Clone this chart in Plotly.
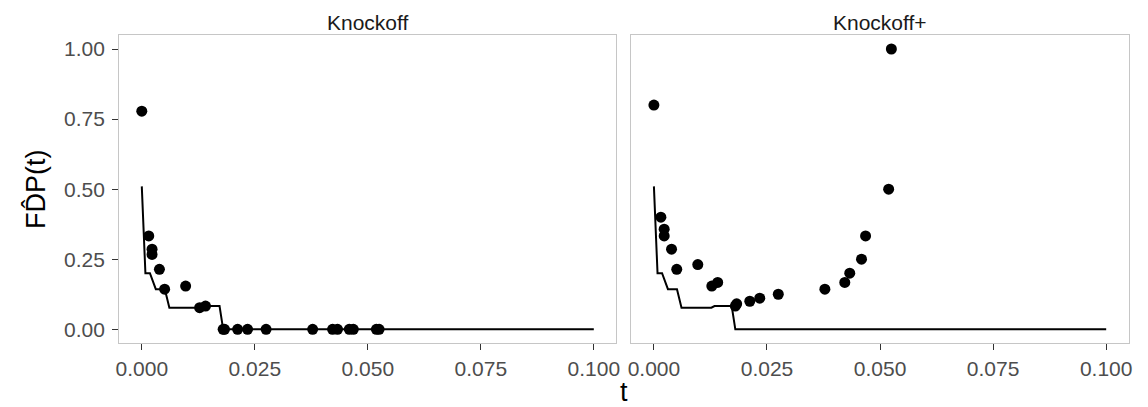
import plotly.graph_objects as go

# Estimated FDP curves for two selection procedures, evaluated at a grid of thresholds t
knockoff_t = [0.0, 0.00154, 0.00227, 0.00227, 0.0039, 0.00505, 0.0097, 0.0128, 0.0141,
              0.0180, 0.0183, 0.0212, 0.0234, 0.0275, 0.0378, 0.0422, 0.0433, 0.0459,
              0.0468, 0.0519, 0.0525]
knockoff_fdp = [0.778, 0.333, 0.286, 0.267, 0.214, 0.143, 0.154, 0.077, 0.083,
                0.0, 0.0, 0.0, 0.0, 0.0, 0.0, 0.0, 0.0, 0.0,
                0.0, 0.0, 0.0]

knockoff_plus_t = [0.0, 0.00154, 0.00227, 0.00227, 0.0039, 0.00505, 0.0097, 0.0128, 0.0141,
                   0.0180, 0.0183, 0.0212, 0.0234, 0.0275, 0.0378, 0.0422, 0.0433, 0.0459,
                   0.0468, 0.0519, 0.0525]
knockoff_plus_fdp = [0.8, 0.4, 0.357, 0.333, 0.286, 0.214, 0.231, 0.154, 0.167,
                     0.083, 0.091, 0.1, 0.111, 0.125, 0.143, 0.167, 0.2, 0.25,
                     0.333, 0.5, 1.0]

# True false discovery proportion, shared by both panels
true_t = [0.0, 0.0008, 0.0018, 0.0031, 0.0051, 0.0061, 0.0127, 0.0134, 0.0172, 0.0180, 0.1]
true_fdp = [0.51, 0.2, 0.2, 0.143, 0.143, 0.077, 0.077, 0.083, 0.083, 0.0, 0.0]

panel_titles = ["Knockoff", "Knockoff+"]
x_ticks = [0.0, 0.025, 0.05, 0.075, 0.1]
x_ticklabels = ["0.000", "0.025", "0.050", "0.075", "0.100"]
y_ticks = [0.0, 0.25, 0.5, 0.75, 1.0]
y_ticklabels = ["0.00", "0.25", "0.50", "0.75", "1.00"]

W, H = 1148, 407
FONT = "Liberation Sans, Arial, Helvetica, sans-serif"
BORDER = "#C6C6C6"
TICK = "#333333"

fig = go.Figure()

panels = [(knockoff_t, knockoff_fdp, "x", "y"),
          (knockoff_plus_t, knockoff_plus_fdp, "x2", "y2")]
for pt, pv, xa, ya in panels:
    fig.add_trace(go.Scatter(x=true_t, y=true_fdp, mode="lines", xaxis=xa, yaxis=ya,
                             line=dict(color="black", width=2), showlegend=False,
                             hoverinfo="skip"))
    fig.add_trace(go.Scatter(x=pt, y=pv, mode="markers", xaxis=xa, yaxis=ya,
                             marker=dict(color="black", size=11, line=dict(width=0)),
                             showlegend=False))

# pixel geometry of the two panels
left_dom = [116 / W, 616.7 / W]
right_dom = [631.7 / W, 1132.7 / W]
y_dom = [1 - 343.3 / H, 1 - 35 / H]

xcommon = dict(range=[-0.005, 0.105], tickvals=x_ticks, ticktext=x_ticklabels,
               showgrid=False, zeroline=False, showline=True, mirror=True,
               linecolor=BORDER, linewidth=1.3, ticks="outside", ticklen=6,
               tickwidth=1.3, tickcolor=TICK,
               tickfont=dict(family=FONT, size=21, color="#4D4D4D"))
ycommon = dict(range=[-0.05, 1.05], tickvals=y_ticks, ticktext=y_ticklabels,
               showgrid=False, zeroline=False, showline=True, mirror=True,
               linecolor=BORDER, linewidth=1.3, domain=y_dom,
               tickfont=dict(family=FONT, size=21, color="#4D4D4D"))

fig.update_layout(
    width=W, height=H, autosize=False,
    margin=dict(l=0, r=0, t=0, b=0),
    paper_bgcolor="white", plot_bgcolor="white",
    xaxis=dict(domain=left_dom, anchor="y", **xcommon),
    xaxis2=dict(domain=right_dom, anchor="y2", **xcommon),
    yaxis=dict(anchor="x", ticks="outside", ticklen=6, tickwidth=1.3, tickcolor=TICK,
               ticklabelstandoff=3, **ycommon),
    yaxis2=dict(anchor="x2", matches="y", showticklabels=False, ticks="", **ycommon),
)

annotations = []
for dom, title in zip([left_dom, right_dom], panel_titles):
    annotations.append(dict(text=title, x=(dom[0] + dom[1]) / 2, y=1 - 22.5 / H,
                            xref="paper", yref="paper", showarrow=False,
                            xanchor="center", yanchor="middle",
                            font=dict(family=FONT, size=21, color="#1A1A1A")))
annotations.append(dict(text="t", x=(left_dom[0] + right_dom[1]) / 2, y=1 - 392 / H,
                        xref="paper", yref="paper", showarrow=False,
                        xanchor="center", yanchor="middle",
                        font=dict(family=FONT, size=27, color="black")))
annotations.append(dict(text="FD\u0302P(t)", x=32 / W, y=(y_dom[0] + y_dom[1]) / 2,
                        xref="paper", yref="paper", showarrow=False, textangle=-90,
                        xanchor="center", yanchor="middle",
                        font=dict(family=FONT, size=27, color="black")))
fig.update_layout(annotations=annotations)

fig.write_html("out.html")
